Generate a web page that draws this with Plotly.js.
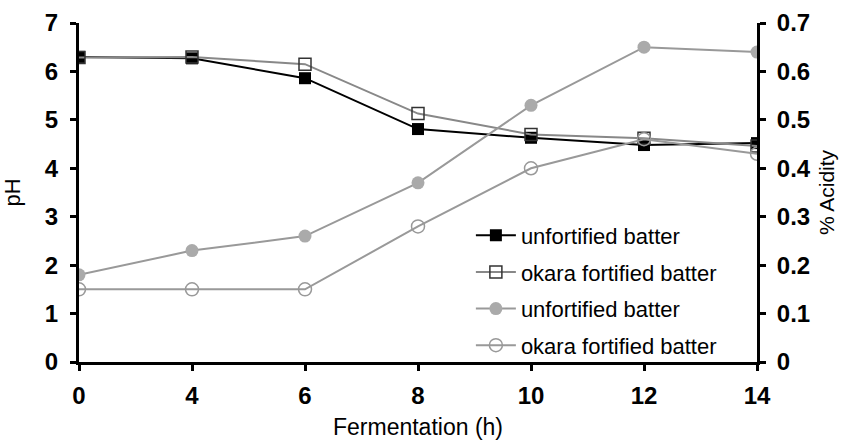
<!DOCTYPE html>
<html><head><meta charset="utf-8">
<script src="https://cdn.plot.ly/plotly-3.0.1.min.js"></script>
<style>body{margin:0}#c{width:844px;height:440px}</style>
</head><body><div id="c"></div>
<script>
const hours = ['0','4','6','8','10','12','14'];
const phUnfortified = [6.3, 6.27, 5.86, 4.81, 4.63, 4.48, 4.52];
const phOkara = [6.29, 6.3, 6.15, 5.13, 4.7, 4.62, 4.46];
const acidUnfortified = [0.18, 0.23, 0.26, 0.37, 0.53, 0.65, 0.64];
const acidOkara = [0.15, 0.15, 0.15, 0.28, 0.40, 0.46, 0.43];
const names = ['unfortified batter','okara fortified batter','unfortified batter','okara fortified batter'];

const traces = [
 {x:hours,y:phUnfortified,name:names[0],legendgroup:'a',mode:'lines+markers',line:{color:'#000',width:2},marker:{symbol:'square',size:12,color:'#000'},yaxis:'y'},
 {x:hours,y:phOkara,name:names[1],legendgroup:'b',mode:'lines+markers',line:{color:'#888',width:2},marker:{symbol:'square-open',size:12,color:'#333',line:{width:1.5}},yaxis:'y'},
 {x:hours,y:acidUnfortified,name:names[2],legendgroup:'c',mode:'lines+markers',line:{color:'#999',width:2},marker:{symbol:'circle',size:13,color:'#aaa'},yaxis:'y2'},
 {x:hours,y:acidOkara,name:names[3],legendgroup:'d',mode:'lines+markers',line:{color:'#999',width:2},marker:{symbol:'circle-open',size:13,color:'#999',line:{width:1.5}},yaxis:'y2'}
];
const ff = 'Liberation Sans, Arial, sans-serif';
const tf = {family:ff,size:24,color:'#000',weight:'bold'};
const layout = {
 width:844,height:440,margin:{l:79,r:87,t:23,b:78},
 paper_bgcolor:'#fff',plot_bgcolor:'#fff',showlegend:true,
 font:{family:ff,color:'#000'},
 xaxis:{type:'category',range:[0,6],showgrid:false,zeroline:false,showline:true,linecolor:'#000',linewidth:3,
   ticks:'outside',ticklen:6,tickwidth:3,tickcolor:'#000',tickfont:tf,ticklabelstandoff:4,
   title:{text:'Fermentation (h)',font:{family:ff,size:23,color:'#000'},standoff:12}},
 yaxis:{range:[0,7],dtick:1,showgrid:false,zeroline:false,showline:true,linecolor:'#000',linewidth:3,
   ticks:'outside',ticklen:6,tickwidth:3,tickcolor:'#000',tickfont:tf,ticklabelstandoff:7,
   title:{text:'pH',font:{family:ff,size:22,color:'#000'},standoff:22}},
 yaxis2:{overlaying:'y',side:'right',range:[0,0.7],dtick:0.1,tickformat:'.1~f',showgrid:false,zeroline:false,showline:true,linecolor:'#000',linewidth:3,
   ticks:'outside',ticklen:6,tickwidth:3,tickcolor:'#000',tickfont:tf,ticklabelstandoff:6,
   title:{text:'% Acidity',font:{family:ff,size:21,color:'#000'},standoff:10}},
 legend:{x:0.578,y:0.435,xanchor:'left',yanchor:'top',bgcolor:'rgba(255,255,255,0)',font:{family:ff,size:22,color:'#000'},itemwidth:40,tracegroupgap:5}
};
Plotly.newPlot('c',traces,layout,{displayModeBar:false});
</script></body></html>
